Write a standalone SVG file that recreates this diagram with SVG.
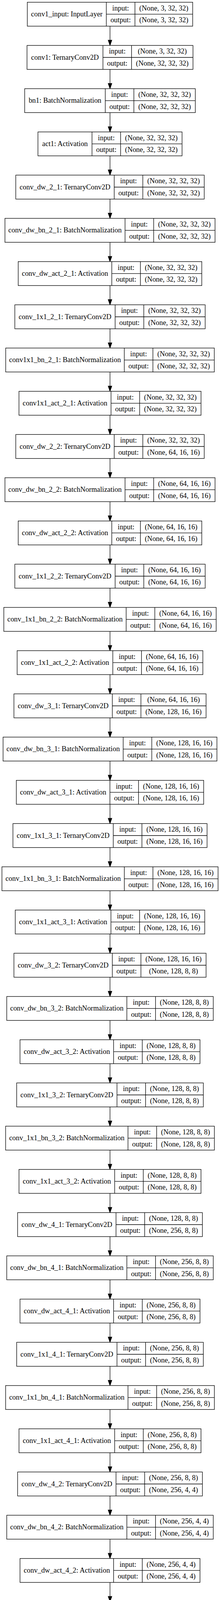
<svg xmlns="http://www.w3.org/2000/svg" width="564" height="7709" viewBox="0 0 564 7709">
<style>
.b{fill:#fff;stroke:#000;stroke-width:1.33}
.l{fill:none;stroke:#000;stroke-width:1.33}
.e{fill:none;stroke:#000;stroke-width:1.33}
text{font-family:"Liberation Serif","Times New Roman",serif;font-size:18.4px;text-anchor:middle;fill:#000}
</style>
<defs>
<marker id="ah" viewBox="0 0 13.33 9.33" refX="0" refY="4.67" markerWidth="13.33" markerHeight="9.33" markerUnits="userSpaceOnUse" orient="auto" overflow="visible">
<path d="M0 0L13.33 4.67L0 9.33Z" fill="#000" stroke="#000" stroke-width="1.33"/>
</marker>
</defs>
<rect width="564" height="7709" fill="#fff"/>
<g id="edges">
<path class="e" marker-end="url(#ah)" d="M282 67v36"/>
<path class="e" marker-end="url(#ah)" d="M282 177.67v36"/>
<path class="e" marker-end="url(#ah)" d="M282 288.33v36"/>
<path class="e" marker-end="url(#ah)" d="M282 399v36"/>
<path class="e" marker-end="url(#ah)" d="M282 509.67v36"/>
<path class="e" marker-end="url(#ah)" d="M282 620.33v36"/>
<path class="e" marker-end="url(#ah)" d="M282 731v36"/>
<path class="e" marker-end="url(#ah)" d="M282 841.67v36"/>
<path class="e" marker-end="url(#ah)" d="M282 952.33v36"/>
<path class="e" marker-end="url(#ah)" d="M282 1063v36"/>
<path class="e" marker-end="url(#ah)" d="M282 1173.67v36"/>
<path class="e" marker-end="url(#ah)" d="M282 1284.33v36"/>
<path class="e" marker-end="url(#ah)" d="M282 1395v36"/>
<path class="e" marker-end="url(#ah)" d="M282 1505.67v36"/>
<path class="e" marker-end="url(#ah)" d="M282 1616.33v36"/>
<path class="e" marker-end="url(#ah)" d="M282 1727v36"/>
<path class="e" marker-end="url(#ah)" d="M282 1837.67v36"/>
<path class="e" marker-end="url(#ah)" d="M282 1948.33v36"/>
<path class="e" marker-end="url(#ah)" d="M282 2059v36"/>
<path class="e" marker-end="url(#ah)" d="M282 2169.67v36"/>
<path class="e" marker-end="url(#ah)" d="M282 2280.33v36"/>
<path class="e" marker-end="url(#ah)" d="M282 2391v36"/>
<path class="e" marker-end="url(#ah)" d="M282 2501.67v36"/>
<path class="e" marker-end="url(#ah)" d="M282 2612.33v36"/>
<path class="e" marker-end="url(#ah)" d="M282 2723v36"/>
<path class="e" marker-end="url(#ah)" d="M282 2833.67v36"/>
<path class="e" marker-end="url(#ah)" d="M282 2944.33v36"/>
<path class="e" marker-end="url(#ah)" d="M282 3055v36"/>
<path class="e" marker-end="url(#ah)" d="M282 3165.67v36"/>
<path class="e" marker-end="url(#ah)" d="M282 3276.33v36"/>
<path class="e" marker-end="url(#ah)" d="M282 3387v36"/>
<path class="e" marker-end="url(#ah)" d="M282 3497.67v36"/>
<path class="e" marker-end="url(#ah)" d="M282 3608.33v36"/>
<path class="e" marker-end="url(#ah)" d="M282 3719v36"/>
<path class="e" marker-end="url(#ah)" d="M282 3829.67v36"/>
<path class="e" marker-end="url(#ah)" d="M282 3940.33v36"/>
<path class="e" marker-end="url(#ah)" d="M282 4051v36"/>
<path class="e" marker-end="url(#ah)" d="M282 4161.67v36"/>
<path class="e" marker-end="url(#ah)" d="M282 4272.33v36"/>
<path class="e" marker-end="url(#ah)" d="M282 4383v36"/>
<path class="e" marker-end="url(#ah)" d="M282 4493.67v36"/>
<path class="e" marker-end="url(#ah)" d="M282 4604.33v36"/>
<path class="e" marker-end="url(#ah)" d="M282 4715v36"/>
<path class="e" marker-end="url(#ah)" d="M282 4825.67v36"/>
<path class="e" marker-end="url(#ah)" d="M282 4936.33v36"/>
<path class="e" marker-end="url(#ah)" d="M282 5047v36"/>
<path class="e" marker-end="url(#ah)" d="M282 5157.67v36"/>
<path class="e" marker-end="url(#ah)" d="M282 5268.33v36"/>
<path class="e" marker-end="url(#ah)" d="M282 5379v36"/>
<path class="e" marker-end="url(#ah)" d="M282 5489.67v36"/>
<path class="e" marker-end="url(#ah)" d="M282 5600.33v36"/>
<path class="e" marker-end="url(#ah)" d="M282 5711v36"/>
<path class="e" marker-end="url(#ah)" d="M282 5821.67v36"/>
<path class="e" marker-end="url(#ah)" d="M282 5932.33v36"/>
<path class="e" marker-end="url(#ah)" d="M282 6043v36"/>
<path class="e" marker-end="url(#ah)" d="M282 6153.67v36"/>
<path class="e" marker-end="url(#ah)" d="M282 6264.33v36"/>
<path class="e" marker-end="url(#ah)" d="M282 6375v36"/>
<path class="e" marker-end="url(#ah)" d="M282 6485.67v36"/>
<path class="e" marker-end="url(#ah)" d="M282 6596.33v36"/>
<path class="e" marker-end="url(#ah)" d="M282 6707v36"/>
<path class="e" marker-end="url(#ah)" d="M282 6817.67v36"/>
<path class="e" marker-end="url(#ah)" d="M282 6928.33v36"/>
<path class="e" marker-end="url(#ah)" d="M282 7039v36"/>
<path class="e" marker-end="url(#ah)" d="M282 7149.67v36"/>
<path class="e" marker-end="url(#ah)" d="M282 7260.33v36"/>
<path class="e" marker-end="url(#ah)" d="M282 7371v36"/>
<path class="e" marker-end="url(#ah)" d="M282 7481.67v36"/>
<path class="e" marker-end="url(#ah)" d="M282 7592.33v36"/>
</g>
<g id="conv1_input" transform="translate(70.05 5.67)"><rect class="b" width="423.9" height="61.33"/><path class="l" d="M202.5 0V61.33M275.9 0V61.33M202.5 30.67H423.9"/><text x="101.25" y="36.27">conv1_input: InputLayer</text><text x="239.2" y="20.93">input:</text><text x="239.2" y="51.6">output:</text><text x="349.9" y="20.93">(None, 3, 32, 32)</text><text x="349.9" y="51.6">(None, 3, 32, 32)</text></g>
<g id="conv1" transform="translate(69.3 116.33)"><rect class="b" width="425.4" height="61.33"/><path class="l" d="M194.6 0V61.33M268 0V61.33M194.6 30.67H425.4"/><text x="97.3" y="36.27">conv1: TernaryConv2D</text><text x="231.3" y="20.93">input:</text><text x="231.3" y="51.6">output:</text><text x="346.7" y="20.93">(None, 3, 32, 32)</text><text x="346.7" y="51.6">(None, 32, 32, 32)</text></g>
<g id="bn1" transform="translate(63.35 227)"><rect class="b" width="437.3" height="61.33"/><path class="l" d="M206.5 0V61.33M279.9 0V61.33M206.5 30.67H437.3"/><text x="103.25" y="36.27">bn1: BatchNormalization</text><text x="243.2" y="20.93">input:</text><text x="243.2" y="51.6">output:</text><text x="358.6" y="20.93">(None, 32, 32, 32)</text><text x="358.6" y="51.6">(None, 32, 32, 32)</text></g>
<g id="act1" transform="translate(97.35 337.67)"><rect class="b" width="369.3" height="61.33"/><path class="l" d="M138.5 0V61.33M211.9 0V61.33M138.5 30.67H369.3"/><text x="69.25" y="36.27">act1: Activation</text><text x="175.2" y="20.93">input:</text><text x="175.2" y="51.6">output:</text><text x="290.6" y="20.93">(None, 32, 32, 32)</text><text x="290.6" y="51.6">(None, 32, 32, 32)</text></g>
<g id="conv_dw_2_1" transform="translate(40.45 448.33)"><rect class="b" width="483.1" height="61.33"/><path class="l" d="M252.3 0V61.33M325.7 0V61.33M252.3 30.67H483.1"/><text x="126.15" y="36.27">conv_dw_2_1: TernaryConv2D</text><text x="289" y="20.93">input:</text><text x="289" y="51.6">output:</text><text x="404.4" y="20.93">(None, 32, 32, 32)</text><text x="404.4" y="51.6">(None, 32, 32, 32)</text></g>
<g id="conv_dw_bn_2_1" transform="translate(12.65 559)"><rect class="b" width="538.7" height="61.33"/><path class="l" d="M307.9 0V61.33M381.3 0V61.33M307.9 30.67H538.7"/><text x="153.95" y="36.27">conv_dw_bn_2_1: BatchNormalization</text><text x="344.6" y="20.93">input:</text><text x="344.6" y="51.6">output:</text><text x="460" y="20.93">(None, 32, 32, 32)</text><text x="460" y="51.6">(None, 32, 32, 32)</text></g>
<g id="conv_dw_act_2_1" transform="translate(46.65 669.67)"><rect class="b" width="470.7" height="61.33"/><path class="l" d="M239.9 0V61.33M313.3 0V61.33M239.9 30.67H470.7"/><text x="119.95" y="36.27">conv_dw_act_2_1: Activation</text><text x="276.6" y="20.93">input:</text><text x="276.6" y="51.6">output:</text><text x="392" y="20.93">(None, 32, 32, 32)</text><text x="392" y="51.6">(None, 32, 32, 32)</text></g>
<g id="conv_1x1_2_1" transform="translate(38 780.33)"><rect class="b" width="488" height="61.33"/><path class="l" d="M257.2 0V61.33M330.6 0V61.33M257.2 30.67H488"/><text x="128.6" y="36.27">conv_1x1_2_1: TernaryConv2D</text><text x="293.9" y="20.93">input:</text><text x="293.9" y="51.6">output:</text><text x="409.3" y="20.93">(None, 32, 32, 32)</text><text x="409.3" y="51.6">(None, 32, 32, 32)</text></g>
<g id="conv1x1_bn_2_1" transform="translate(14.6 891)"><rect class="b" width="534.8" height="61.33"/><path class="l" d="M304 0V61.33M377.4 0V61.33M304 30.67H534.8"/><text x="152" y="36.27">conv1x1_bn_2_1: BatchNormalization</text><text x="340.7" y="20.93">input:</text><text x="340.7" y="51.6">output:</text><text x="456.1" y="20.93">(None, 32, 32, 32)</text><text x="456.1" y="51.6">(None, 32, 32, 32)</text></g>
<g id="conv1x1_act_2_1" transform="translate(48.6 1001.67)"><rect class="b" width="466.8" height="61.33"/><path class="l" d="M236 0V61.33M309.4 0V61.33M236 30.67H466.8"/><text x="118" y="36.27">conv1x1_act_2_1: Activation</text><text x="272.7" y="20.93">input:</text><text x="272.7" y="51.6">output:</text><text x="388.1" y="20.93">(None, 32, 32, 32)</text><text x="388.1" y="51.6">(None, 32, 32, 32)</text></g>
<g id="conv_dw_2_2" transform="translate(40.45 1112.33)"><rect class="b" width="483.1" height="61.33"/><path class="l" d="M252.3 0V61.33M325.7 0V61.33M252.3 30.67H483.1"/><text x="126.15" y="36.27">conv_dw_2_2: TernaryConv2D</text><text x="289" y="20.93">input:</text><text x="289" y="51.6">output:</text><text x="404.4" y="20.93">(None, 32, 32, 32)</text><text x="404.4" y="51.6">(None, 64, 16, 16)</text></g>
<g id="conv_dw_bn_2_2" transform="translate(12.65 1223)"><rect class="b" width="538.7" height="61.33"/><path class="l" d="M307.9 0V61.33M381.3 0V61.33M307.9 30.67H538.7"/><text x="153.95" y="36.27">conv_dw_bn_2_2: BatchNormalization</text><text x="344.6" y="20.93">input:</text><text x="344.6" y="51.6">output:</text><text x="460" y="20.93">(None, 64, 16, 16)</text><text x="460" y="51.6">(None, 64, 16, 16)</text></g>
<g id="conv_dw_act_2_2" transform="translate(46.65 1333.67)"><rect class="b" width="470.7" height="61.33"/><path class="l" d="M239.9 0V61.33M313.3 0V61.33M239.9 30.67H470.7"/><text x="119.95" y="36.27">conv_dw_act_2_2: Activation</text><text x="276.6" y="20.93">input:</text><text x="276.6" y="51.6">output:</text><text x="392" y="20.93">(None, 64, 16, 16)</text><text x="392" y="51.6">(None, 64, 16, 16)</text></g>
<g id="conv_1x1_2_2" transform="translate(38 1444.33)"><rect class="b" width="488" height="61.33"/><path class="l" d="M257.2 0V61.33M330.6 0V61.33M257.2 30.67H488"/><text x="128.6" y="36.27">conv_1x1_2_2: TernaryConv2D</text><text x="293.9" y="20.93">input:</text><text x="293.9" y="51.6">output:</text><text x="409.3" y="20.93">(None, 64, 16, 16)</text><text x="409.3" y="51.6">(None, 64, 16, 16)</text></g>
<g id="conv_1x1_bn_2_2" transform="translate(9.75 1555)"><rect class="b" width="544.5" height="61.33"/><path class="l" d="M313.7 0V61.33M387.1 0V61.33M313.7 30.67H544.5"/><text x="156.85" y="36.27">conv_1x1_bn_2_2: BatchNormalization</text><text x="350.4" y="20.93">input:</text><text x="350.4" y="51.6">output:</text><text x="465.8" y="20.93">(None, 64, 16, 16)</text><text x="465.8" y="51.6">(None, 64, 16, 16)</text></g>
<g id="conv_1x1_act_2_2" transform="translate(43.95 1665.67)"><rect class="b" width="476.1" height="61.33"/><path class="l" d="M245.3 0V61.33M318.7 0V61.33M245.3 30.67H476.1"/><text x="122.65" y="36.27">conv_1x1_act_2_2: Activation</text><text x="282" y="20.93">input:</text><text x="282" y="51.6">output:</text><text x="397.4" y="20.93">(None, 64, 16, 16)</text><text x="397.4" y="51.6">(None, 64, 16, 16)</text></g>
<g id="conv_dw_3_1" transform="translate(35.65 1776.33)"><rect class="b" width="492.7" height="61.33"/><path class="l" d="M252.3 0V61.33M325.7 0V61.33M252.3 30.67H492.7"/><text x="126.15" y="36.27">conv_dw_3_1: TernaryConv2D</text><text x="289" y="20.93">input:</text><text x="289" y="51.6">output:</text><text x="409.2" y="20.93">(None, 64, 16, 16)</text><text x="409.2" y="51.6">(None, 128, 16, 16)</text></g>
<g id="conv_dw_bn_3_1" transform="translate(7.85 1887)"><rect class="b" width="548.3" height="61.33"/><path class="l" d="M307.9 0V61.33M381.3 0V61.33M307.9 30.67H548.3"/><text x="153.95" y="36.27">conv_dw_bn_3_1: BatchNormalization</text><text x="344.6" y="20.93">input:</text><text x="344.6" y="51.6">output:</text><text x="464.8" y="20.93">(None, 128, 16, 16)</text><text x="464.8" y="51.6">(None, 128, 16, 16)</text></g>
<g id="conv_dw_act_3_1" transform="translate(41.85 1997.67)"><rect class="b" width="480.3" height="61.33"/><path class="l" d="M239.9 0V61.33M313.3 0V61.33M239.9 30.67H480.3"/><text x="119.95" y="36.27">conv_dw_act_3_1: Activation</text><text x="276.6" y="20.93">input:</text><text x="276.6" y="51.6">output:</text><text x="396.8" y="20.93">(None, 128, 16, 16)</text><text x="396.8" y="51.6">(None, 128, 16, 16)</text></g>
<g id="conv_1x1_3_1" transform="translate(33.2 2108.33)"><rect class="b" width="497.6" height="61.33"/><path class="l" d="M257.2 0V61.33M330.6 0V61.33M257.2 30.67H497.6"/><text x="128.6" y="36.27">conv_1x1_3_1: TernaryConv2D</text><text x="293.9" y="20.93">input:</text><text x="293.9" y="51.6">output:</text><text x="414.1" y="20.93">(None, 128, 16, 16)</text><text x="414.1" y="51.6">(None, 128, 16, 16)</text></g>
<g id="conv_1x1_bn_3_1" transform="translate(4.95 2219)"><rect class="b" width="554.1" height="61.33"/><path class="l" d="M313.7 0V61.33M387.1 0V61.33M313.7 30.67H554.1"/><text x="156.85" y="36.27">conv_1x1_bn_3_1: BatchNormalization</text><text x="350.4" y="20.93">input:</text><text x="350.4" y="51.6">output:</text><text x="470.6" y="20.93">(None, 128, 16, 16)</text><text x="470.6" y="51.6">(None, 128, 16, 16)</text></g>
<g id="conv_1x1_act_3_1" transform="translate(39.15 2329.67)"><rect class="b" width="485.7" height="61.33"/><path class="l" d="M245.3 0V61.33M318.7 0V61.33M245.3 30.67H485.7"/><text x="122.65" y="36.27">conv_1x1_act_3_1: Activation</text><text x="282" y="20.93">input:</text><text x="282" y="51.6">output:</text><text x="402.2" y="20.93">(None, 128, 16, 16)</text><text x="402.2" y="51.6">(None, 128, 16, 16)</text></g>
<g id="conv_dw_3_2" transform="translate(35.65 2440.33)"><rect class="b" width="492.7" height="61.33"/><path class="l" d="M252.3 0V61.33M325.7 0V61.33M252.3 30.67H492.7"/><text x="126.15" y="36.27">conv_dw_3_2: TernaryConv2D</text><text x="289" y="20.93">input:</text><text x="289" y="51.6">output:</text><text x="409.2" y="20.93">(None, 128, 16, 16)</text><text x="409.2" y="51.6">(None, 128, 8, 8)</text></g>
<g id="conv_dw_bn_3_2" transform="translate(17.35 2551)"><rect class="b" width="529.3" height="61.33"/><path class="l" d="M307.9 0V61.33M381.3 0V61.33M307.9 30.67H529.3"/><text x="153.95" y="36.27">conv_dw_bn_3_2: BatchNormalization</text><text x="344.6" y="20.93">input:</text><text x="344.6" y="51.6">output:</text><text x="455.3" y="20.93">(None, 128, 8, 8)</text><text x="455.3" y="51.6">(None, 128, 8, 8)</text></g>
<g id="conv_dw_act_3_2" transform="translate(51.35 2661.67)"><rect class="b" width="461.3" height="61.33"/><path class="l" d="M239.9 0V61.33M313.3 0V61.33M239.9 30.67H461.3"/><text x="119.95" y="36.27">conv_dw_act_3_2: Activation</text><text x="276.6" y="20.93">input:</text><text x="276.6" y="51.6">output:</text><text x="387.3" y="20.93">(None, 128, 8, 8)</text><text x="387.3" y="51.6">(None, 128, 8, 8)</text></g>
<g id="conv_1x1_3_2" transform="translate(42.7 2772.33)"><rect class="b" width="478.6" height="61.33"/><path class="l" d="M257.2 0V61.33M330.6 0V61.33M257.2 30.67H478.6"/><text x="128.6" y="36.27">conv_1x1_3_2: TernaryConv2D</text><text x="293.9" y="20.93">input:</text><text x="293.9" y="51.6">output:</text><text x="404.6" y="20.93">(None, 128, 8, 8)</text><text x="404.6" y="51.6">(None, 128, 8, 8)</text></g>
<g id="conv_1x1_bn_3_2" transform="translate(14.45 2883)"><rect class="b" width="535.1" height="61.33"/><path class="l" d="M313.7 0V61.33M387.1 0V61.33M313.7 30.67H535.1"/><text x="156.85" y="36.27">conv_1x1_bn_3_2: BatchNormalization</text><text x="350.4" y="20.93">input:</text><text x="350.4" y="51.6">output:</text><text x="461.1" y="20.93">(None, 128, 8, 8)</text><text x="461.1" y="51.6">(None, 128, 8, 8)</text></g>
<g id="conv_1x1_act_3_2" transform="translate(48.65 2993.67)"><rect class="b" width="466.7" height="61.33"/><path class="l" d="M245.3 0V61.33M318.7 0V61.33M245.3 30.67H466.7"/><text x="122.65" y="36.27">conv_1x1_act_3_2: Activation</text><text x="282" y="20.93">input:</text><text x="282" y="51.6">output:</text><text x="392.7" y="20.93">(None, 128, 8, 8)</text><text x="392.7" y="51.6">(None, 128, 8, 8)</text></g>
<g id="conv_dw_4_1" transform="translate(45.15 3104.33)"><rect class="b" width="473.7" height="61.33"/><path class="l" d="M252.3 0V61.33M325.7 0V61.33M252.3 30.67H473.7"/><text x="126.15" y="36.27">conv_dw_4_1: TernaryConv2D</text><text x="289" y="20.93">input:</text><text x="289" y="51.6">output:</text><text x="399.7" y="20.93">(None, 128, 8, 8)</text><text x="399.7" y="51.6">(None, 256, 8, 8)</text></g>
<g id="conv_dw_bn_4_1" transform="translate(17.35 3215)"><rect class="b" width="529.3" height="61.33"/><path class="l" d="M307.9 0V61.33M381.3 0V61.33M307.9 30.67H529.3"/><text x="153.95" y="36.27">conv_dw_bn_4_1: BatchNormalization</text><text x="344.6" y="20.93">input:</text><text x="344.6" y="51.6">output:</text><text x="455.3" y="20.93">(None, 256, 8, 8)</text><text x="455.3" y="51.6">(None, 256, 8, 8)</text></g>
<g id="conv_dw_act_4_1" transform="translate(51.35 3325.67)"><rect class="b" width="461.3" height="61.33"/><path class="l" d="M239.9 0V61.33M313.3 0V61.33M239.9 30.67H461.3"/><text x="119.95" y="36.27">conv_dw_act_4_1: Activation</text><text x="276.6" y="20.93">input:</text><text x="276.6" y="51.6">output:</text><text x="387.3" y="20.93">(None, 256, 8, 8)</text><text x="387.3" y="51.6">(None, 256, 8, 8)</text></g>
<g id="conv_1x1_4_1" transform="translate(42.7 3436.33)"><rect class="b" width="478.6" height="61.33"/><path class="l" d="M257.2 0V61.33M330.6 0V61.33M257.2 30.67H478.6"/><text x="128.6" y="36.27">conv_1x1_4_1: TernaryConv2D</text><text x="293.9" y="20.93">input:</text><text x="293.9" y="51.6">output:</text><text x="404.6" y="20.93">(None, 256, 8, 8)</text><text x="404.6" y="51.6">(None, 256, 8, 8)</text></g>
<g id="conv_1x1_bn_4_1" transform="translate(14.45 3547)"><rect class="b" width="535.1" height="61.33"/><path class="l" d="M313.7 0V61.33M387.1 0V61.33M313.7 30.67H535.1"/><text x="156.85" y="36.27">conv_1x1_bn_4_1: BatchNormalization</text><text x="350.4" y="20.93">input:</text><text x="350.4" y="51.6">output:</text><text x="461.1" y="20.93">(None, 256, 8, 8)</text><text x="461.1" y="51.6">(None, 256, 8, 8)</text></g>
<g id="conv_1x1_act_4_1" transform="translate(48.65 3657.67)"><rect class="b" width="466.7" height="61.33"/><path class="l" d="M245.3 0V61.33M318.7 0V61.33M245.3 30.67H466.7"/><text x="122.65" y="36.27">conv_1x1_act_4_1: Activation</text><text x="282" y="20.93">input:</text><text x="282" y="51.6">output:</text><text x="392.7" y="20.93">(None, 256, 8, 8)</text><text x="392.7" y="51.6">(None, 256, 8, 8)</text></g>
<g id="conv_dw_4_2" transform="translate(45.15 3768.33)"><rect class="b" width="473.7" height="61.33"/><path class="l" d="M252.3 0V61.33M325.7 0V61.33M252.3 30.67H473.7"/><text x="126.15" y="36.27">conv_dw_4_2: TernaryConv2D</text><text x="289" y="20.93">input:</text><text x="289" y="51.6">output:</text><text x="399.7" y="20.93">(None, 256, 8, 8)</text><text x="399.7" y="51.6">(None, 256, 4, 4)</text></g>
<g id="conv_dw_bn_4_2" transform="translate(17.35 3879)"><rect class="b" width="529.3" height="61.33"/><path class="l" d="M307.9 0V61.33M381.3 0V61.33M307.9 30.67H529.3"/><text x="153.95" y="36.27">conv_dw_bn_4_2: BatchNormalization</text><text x="344.6" y="20.93">input:</text><text x="344.6" y="51.6">output:</text><text x="455.3" y="20.93">(None, 256, 4, 4)</text><text x="455.3" y="51.6">(None, 256, 4, 4)</text></g>
<g id="conv_dw_act_4_2" transform="translate(51.35 3989.67)"><rect class="b" width="461.3" height="61.33"/><path class="l" d="M239.9 0V61.33M313.3 0V61.33M239.9 30.67H461.3"/><text x="119.95" y="36.27">conv_dw_act_4_2: Activation</text><text x="276.6" y="20.93">input:</text><text x="276.6" y="51.6">output:</text><text x="387.3" y="20.93">(None, 256, 4, 4)</text><text x="387.3" y="51.6">(None, 256, 4, 4)</text></g>
<g id="conv_1x1_4_2" transform="translate(42.7 4100.33)"><rect class="b" width="478.6" height="61.33"/><path class="l" d="M257.2 0V61.33M330.6 0V61.33M257.2 30.67H478.6"/><text x="128.6" y="36.27">conv_1x1_4_2: TernaryConv2D</text><text x="293.9" y="20.93">input:</text><text x="293.9" y="51.6">output:</text><text x="404.6" y="20.93">(None, 256, 4, 4)</text><text x="404.6" y="51.6">(None, 256, 4, 4)</text></g>
<g id="conv_1x1_bn_4_2" transform="translate(14.45 4211)"><rect class="b" width="535.1" height="61.33"/><path class="l" d="M313.7 0V61.33M387.1 0V61.33M313.7 30.67H535.1"/><text x="156.85" y="36.27">conv_1x1_bn_4_2: BatchNormalization</text><text x="350.4" y="20.93">input:</text><text x="350.4" y="51.6">output:</text><text x="461.1" y="20.93">(None, 256, 4, 4)</text><text x="461.1" y="51.6">(None, 256, 4, 4)</text></g>
<g id="conv_1x1_act_4_2" transform="translate(48.65 4321.67)"><rect class="b" width="466.7" height="61.33"/><path class="l" d="M245.3 0V61.33M318.7 0V61.33M245.3 30.67H466.7"/><text x="122.65" y="36.27">conv_1x1_act_4_2: Activation</text><text x="282" y="20.93">input:</text><text x="282" y="51.6">output:</text><text x="392.7" y="20.93">(None, 256, 4, 4)</text><text x="392.7" y="51.6">(None, 256, 4, 4)</text></g>
<g id="conv_dw_5_1" transform="translate(45.15 4432.33)"><rect class="b" width="473.7" height="61.33"/><path class="l" d="M252.3 0V61.33M325.7 0V61.33M252.3 30.67H473.7"/><text x="126.15" y="36.27">conv_dw_5_1: TernaryConv2D</text><text x="289" y="20.93">input:</text><text x="289" y="51.6">output:</text><text x="399.7" y="20.93">(None, 256, 4, 4)</text><text x="399.7" y="51.6">(None, 512, 4, 4)</text></g>
<g id="conv_dw_bn_5_1" transform="translate(17.35 4543)"><rect class="b" width="529.3" height="61.33"/><path class="l" d="M307.9 0V61.33M381.3 0V61.33M307.9 30.67H529.3"/><text x="153.95" y="36.27">conv_dw_bn_5_1: BatchNormalization</text><text x="344.6" y="20.93">input:</text><text x="344.6" y="51.6">output:</text><text x="455.3" y="20.93">(None, 512, 4, 4)</text><text x="455.3" y="51.6">(None, 512, 4, 4)</text></g>
<g id="conv_dw_act_5_1" transform="translate(51.35 4653.67)"><rect class="b" width="461.3" height="61.33"/><path class="l" d="M239.9 0V61.33M313.3 0V61.33M239.9 30.67H461.3"/><text x="119.95" y="36.27">conv_dw_act_5_1: Activation</text><text x="276.6" y="20.93">input:</text><text x="276.6" y="51.6">output:</text><text x="387.3" y="20.93">(None, 512, 4, 4)</text><text x="387.3" y="51.6">(None, 512, 4, 4)</text></g>
<g id="conv_1x1_5_1" transform="translate(42.7 4764.33)"><rect class="b" width="478.6" height="61.33"/><path class="l" d="M257.2 0V61.33M330.6 0V61.33M257.2 30.67H478.6"/><text x="128.6" y="36.27">conv_1x1_5_1: TernaryConv2D</text><text x="293.9" y="20.93">input:</text><text x="293.9" y="51.6">output:</text><text x="404.6" y="20.93">(None, 512, 4, 4)</text><text x="404.6" y="51.6">(None, 512, 4, 4)</text></g>
<g id="conv_1x1_bn_5_1" transform="translate(14.45 4875)"><rect class="b" width="535.1" height="61.33"/><path class="l" d="M313.7 0V61.33M387.1 0V61.33M313.7 30.67H535.1"/><text x="156.85" y="36.27">conv_1x1_bn_5_1: BatchNormalization</text><text x="350.4" y="20.93">input:</text><text x="350.4" y="51.6">output:</text><text x="461.1" y="20.93">(None, 512, 4, 4)</text><text x="461.1" y="51.6">(None, 512, 4, 4)</text></g>
<g id="conv_1x1_act_5_1" transform="translate(48.65 4985.67)"><rect class="b" width="466.7" height="61.33"/><path class="l" d="M245.3 0V61.33M318.7 0V61.33M245.3 30.67H466.7"/><text x="122.65" y="36.27">conv_1x1_act_5_1: Activation</text><text x="282" y="20.93">input:</text><text x="282" y="51.6">output:</text><text x="392.7" y="20.93">(None, 512, 4, 4)</text><text x="392.7" y="51.6">(None, 512, 4, 4)</text></g>
<g id="conv_dw_5_2" transform="translate(45.15 5096.33)"><rect class="b" width="473.7" height="61.33"/><path class="l" d="M252.3 0V61.33M325.7 0V61.33M252.3 30.67H473.7"/><text x="126.15" y="36.27">conv_dw_5_2: TernaryConv2D</text><text x="289" y="20.93">input:</text><text x="289" y="51.6">output:</text><text x="399.7" y="20.93">(None, 512, 4, 4)</text><text x="399.7" y="51.6">(None, 512, 4, 4)</text></g>
<g id="conv_dw_bn_5_2" transform="translate(17.35 5207)"><rect class="b" width="529.3" height="61.33"/><path class="l" d="M307.9 0V61.33M381.3 0V61.33M307.9 30.67H529.3"/><text x="153.95" y="36.27">conv_dw_bn_5_2: BatchNormalization</text><text x="344.6" y="20.93">input:</text><text x="344.6" y="51.6">output:</text><text x="455.3" y="20.93">(None, 512, 4, 4)</text><text x="455.3" y="51.6">(None, 512, 4, 4)</text></g>
<g id="conv_dw_act_5_2" transform="translate(51.35 5317.67)"><rect class="b" width="461.3" height="61.33"/><path class="l" d="M239.9 0V61.33M313.3 0V61.33M239.9 30.67H461.3"/><text x="119.95" y="36.27">conv_dw_act_5_2: Activation</text><text x="276.6" y="20.93">input:</text><text x="276.6" y="51.6">output:</text><text x="387.3" y="20.93">(None, 512, 4, 4)</text><text x="387.3" y="51.6">(None, 512, 4, 4)</text></g>
<g id="conv_1x1_5_2" transform="translate(42.7 5428.33)"><rect class="b" width="478.6" height="61.33"/><path class="l" d="M257.2 0V61.33M330.6 0V61.33M257.2 30.67H478.6"/><text x="128.6" y="36.27">conv_1x1_5_2: TernaryConv2D</text><text x="293.9" y="20.93">input:</text><text x="293.9" y="51.6">output:</text><text x="404.6" y="20.93">(None, 512, 4, 4)</text><text x="404.6" y="51.6">(None, 512, 4, 4)</text></g>
<g id="conv_1x1_bn_5_2" transform="translate(14.45 5539)"><rect class="b" width="535.1" height="61.33"/><path class="l" d="M313.7 0V61.33M387.1 0V61.33M313.7 30.67H535.1"/><text x="156.85" y="36.27">conv_1x1_bn_5_2: BatchNormalization</text><text x="350.4" y="20.93">input:</text><text x="350.4" y="51.6">output:</text><text x="461.1" y="20.93">(None, 512, 4, 4)</text><text x="461.1" y="51.6">(None, 512, 4, 4)</text></g>
<g id="conv_1x1_act_5_2" transform="translate(48.65 5649.67)"><rect class="b" width="466.7" height="61.33"/><path class="l" d="M245.3 0V61.33M318.7 0V61.33M245.3 30.67H466.7"/><text x="122.65" y="36.27">conv_1x1_act_5_2: Activation</text><text x="282" y="20.93">input:</text><text x="282" y="51.6">output:</text><text x="392.7" y="20.93">(None, 512, 4, 4)</text><text x="392.7" y="51.6">(None, 512, 4, 4)</text></g>
<g id="conv_dw_6_1" transform="translate(45.15 5760.33)"><rect class="b" width="473.7" height="61.33"/><path class="l" d="M252.3 0V61.33M325.7 0V61.33M252.3 30.67H473.7"/><text x="126.15" y="36.27">conv_dw_6_1: TernaryConv2D</text><text x="289" y="20.93">input:</text><text x="289" y="51.6">output:</text><text x="399.7" y="20.93">(None, 512, 4, 4)</text><text x="399.7" y="51.6">(None, 512, 2, 2)</text></g>
<g id="conv_dw_bn_6_1" transform="translate(17.35 5871)"><rect class="b" width="529.3" height="61.33"/><path class="l" d="M307.9 0V61.33M381.3 0V61.33M307.9 30.67H529.3"/><text x="153.95" y="36.27">conv_dw_bn_6_1: BatchNormalization</text><text x="344.6" y="20.93">input:</text><text x="344.6" y="51.6">output:</text><text x="455.3" y="20.93">(None, 512, 2, 2)</text><text x="455.3" y="51.6">(None, 512, 2, 2)</text></g>
<g id="conv_dw_act_6_1" transform="translate(51.35 5981.67)"><rect class="b" width="461.3" height="61.33"/><path class="l" d="M239.9 0V61.33M313.3 0V61.33M239.9 30.67H461.3"/><text x="119.95" y="36.27">conv_dw_act_6_1: Activation</text><text x="276.6" y="20.93">input:</text><text x="276.6" y="51.6">output:</text><text x="387.3" y="20.93">(None, 512, 2, 2)</text><text x="387.3" y="51.6">(None, 512, 2, 2)</text></g>
<g id="conv_1x1_6_1" transform="translate(42.7 6092.33)"><rect class="b" width="478.6" height="61.33"/><path class="l" d="M257.2 0V61.33M330.6 0V61.33M257.2 30.67H478.6"/><text x="128.6" y="36.27">conv_1x1_6_1: TernaryConv2D</text><text x="293.9" y="20.93">input:</text><text x="293.9" y="51.6">output:</text><text x="404.6" y="20.93">(None, 512, 2, 2)</text><text x="404.6" y="51.6">(None, 512, 2, 2)</text></g>
<g id="conv_1x1_bn_6_1" transform="translate(14.45 6203)"><rect class="b" width="535.1" height="61.33"/><path class="l" d="M313.7 0V61.33M387.1 0V61.33M313.7 30.67H535.1"/><text x="156.85" y="36.27">conv_1x1_bn_6_1: BatchNormalization</text><text x="350.4" y="20.93">input:</text><text x="350.4" y="51.6">output:</text><text x="461.1" y="20.93">(None, 512, 2, 2)</text><text x="461.1" y="51.6">(None, 512, 2, 2)</text></g>
<g id="conv_1x1_act_6_1" transform="translate(48.65 6313.67)"><rect class="b" width="466.7" height="61.33"/><path class="l" d="M245.3 0V61.33M318.7 0V61.33M245.3 30.67H466.7"/><text x="122.65" y="36.27">conv_1x1_act_6_1: Activation</text><text x="282" y="20.93">input:</text><text x="282" y="51.6">output:</text><text x="392.7" y="20.93">(None, 512, 2, 2)</text><text x="392.7" y="51.6">(None, 512, 2, 2)</text></g>
<g id="conv_dw_7_2" transform="translate(40.45 6424.33)"><rect class="b" width="483.1" height="61.33"/><path class="l" d="M252.3 0V61.33M325.7 0V61.33M252.3 30.67H483.1"/><text x="126.15" y="36.27">conv_dw_7_2: TernaryConv2D</text><text x="289" y="20.93">input:</text><text x="289" y="51.6">output:</text><text x="404.4" y="20.93">(None, 512, 2, 2)</text><text x="404.4" y="51.6">(None, 1024, 2, 2)</text></g>
<g id="conv_dw_bn_7_2" transform="translate(12.65 6535)"><rect class="b" width="538.7" height="61.33"/><path class="l" d="M307.9 0V61.33M381.3 0V61.33M307.9 30.67H538.7"/><text x="153.95" y="36.27">conv_dw_bn_7_2: BatchNormalization</text><text x="344.6" y="20.93">input:</text><text x="344.6" y="51.6">output:</text><text x="460" y="20.93">(None, 1024, 2, 2)</text><text x="460" y="51.6">(None, 1024, 2, 2)</text></g>
<g id="conv_dw_act_7_2" transform="translate(46.65 6645.67)"><rect class="b" width="470.7" height="61.33"/><path class="l" d="M239.9 0V61.33M313.3 0V61.33M239.9 30.67H470.7"/><text x="119.95" y="36.27">conv_dw_act_7_2: Activation</text><text x="276.6" y="20.93">input:</text><text x="276.6" y="51.6">output:</text><text x="392" y="20.93">(None, 1024, 2, 2)</text><text x="392" y="51.6">(None, 1024, 2, 2)</text></g>
<g id="conv_1x1_7_2" transform="translate(38 6756.33)"><rect class="b" width="488" height="61.33"/><path class="l" d="M257.2 0V61.33M330.6 0V61.33M257.2 30.67H488"/><text x="128.6" y="36.27">conv_1x1_7_2: TernaryConv2D</text><text x="293.9" y="20.93">input:</text><text x="293.9" y="51.6">output:</text><text x="409.3" y="20.93">(None, 1024, 2, 2)</text><text x="409.3" y="51.6">(None, 1024, 2, 2)</text></g>
<g id="conv_1x1_bn_7_2" transform="translate(9.75 6867)"><rect class="b" width="544.5" height="61.33"/><path class="l" d="M313.7 0V61.33M387.1 0V61.33M313.7 30.67H544.5"/><text x="156.85" y="36.27">conv_1x1_bn_7_2: BatchNormalization</text><text x="350.4" y="20.93">input:</text><text x="350.4" y="51.6">output:</text><text x="465.8" y="20.93">(None, 1024, 2, 2)</text><text x="465.8" y="51.6">(None, 1024, 2, 2)</text></g>
<g id="conv_1x1_act_7_2" transform="translate(43.95 6977.67)"><rect class="b" width="476.1" height="61.33"/><path class="l" d="M245.3 0V61.33M318.7 0V61.33M245.3 30.67H476.1"/><text x="122.65" y="36.27">conv_1x1_act_7_2: Activation</text><text x="282" y="20.93">input:</text><text x="282" y="51.6">output:</text><text x="397.4" y="20.93">(None, 1024, 2, 2)</text><text x="397.4" y="51.6">(None, 1024, 2, 2)</text></g>
<g id="flatten_1" transform="translate(93.4 7088.33)"><rect class="b" width="377.2" height="61.33"/><path class="l" d="M146.4 0V61.33M219.8 0V61.33M146.4 30.67H377.2"/><text x="73.2" y="36.27">flatten_1: Flatten</text><text x="183.1" y="20.93">input:</text><text x="183.1" y="51.6">output:</text><text x="298.5" y="20.93">(None, 1024, 2, 2)</text><text x="298.5" y="51.6">(None, 4096)</text></g>
<g id="dense5" transform="translate(93.8 7199)"><rect class="b" width="376.4" height="61.33"/><path class="l" d="M184.5 0V61.33M257.9 0V61.33M184.5 30.67H376.4"/><text x="92.25" y="36.27">dense5: TernaryDense</text><text x="221.2" y="20.93">input:</text><text x="221.2" y="51.6">output:</text><text x="317.15" y="20.93">(None, 4096)</text><text x="317.15" y="51.6">(None, 1024)</text></g>
<g id="bn5" transform="translate(82.8 7309.67)"><rect class="b" width="398.4" height="61.33"/><path class="l" d="M206.5 0V61.33M279.9 0V61.33M206.5 30.67H398.4"/><text x="103.25" y="36.27">bn5: BatchNormalization</text><text x="243.2" y="20.93">input:</text><text x="243.2" y="51.6">output:</text><text x="339.15" y="20.93">(None, 1024)</text><text x="339.15" y="51.6">(None, 1024)</text></g>
<g id="act5" transform="translate(116.45 7420.33)"><rect class="b" width="331.1" height="61.33"/><path class="l" d="M139.2 0V61.33M212.6 0V61.33M139.2 30.67H331.1"/><text x="69.6" y="36.27">act5: Activation</text><text x="175.9" y="20.93">input:</text><text x="175.9" y="51.6">output:</text><text x="271.85" y="20.93">(None, 1024)</text><text x="271.85" y="51.6">(None, 1024)</text></g>
<g id="dense6" transform="translate(93.8 7531)"><rect class="b" width="376.4" height="61.33"/><path class="l" d="M184.5 0V61.33M257.9 0V61.33M184.5 30.67H376.4"/><text x="92.25" y="36.27">dense6: TernaryDense</text><text x="221.2" y="20.93">input:</text><text x="221.2" y="51.6">output:</text><text x="317.15" y="20.93">(None, 1024)</text><text x="317.15" y="51.6">(None, 10)</text></g>
<g id="bn6" transform="translate(91.45 7641.67)"><rect class="b" width="381.1" height="61.33"/><path class="l" d="M206.5 0V61.33M279.9 0V61.33M206.5 30.67H381.1"/><text x="103.25" y="36.27">bn6: BatchNormalization</text><text x="243.2" y="20.93">input:</text><text x="243.2" y="51.6">output:</text><text x="330.5" y="20.93">(None, 10)</text><text x="330.5" y="51.6">(None, 10)</text></g>
</svg>
